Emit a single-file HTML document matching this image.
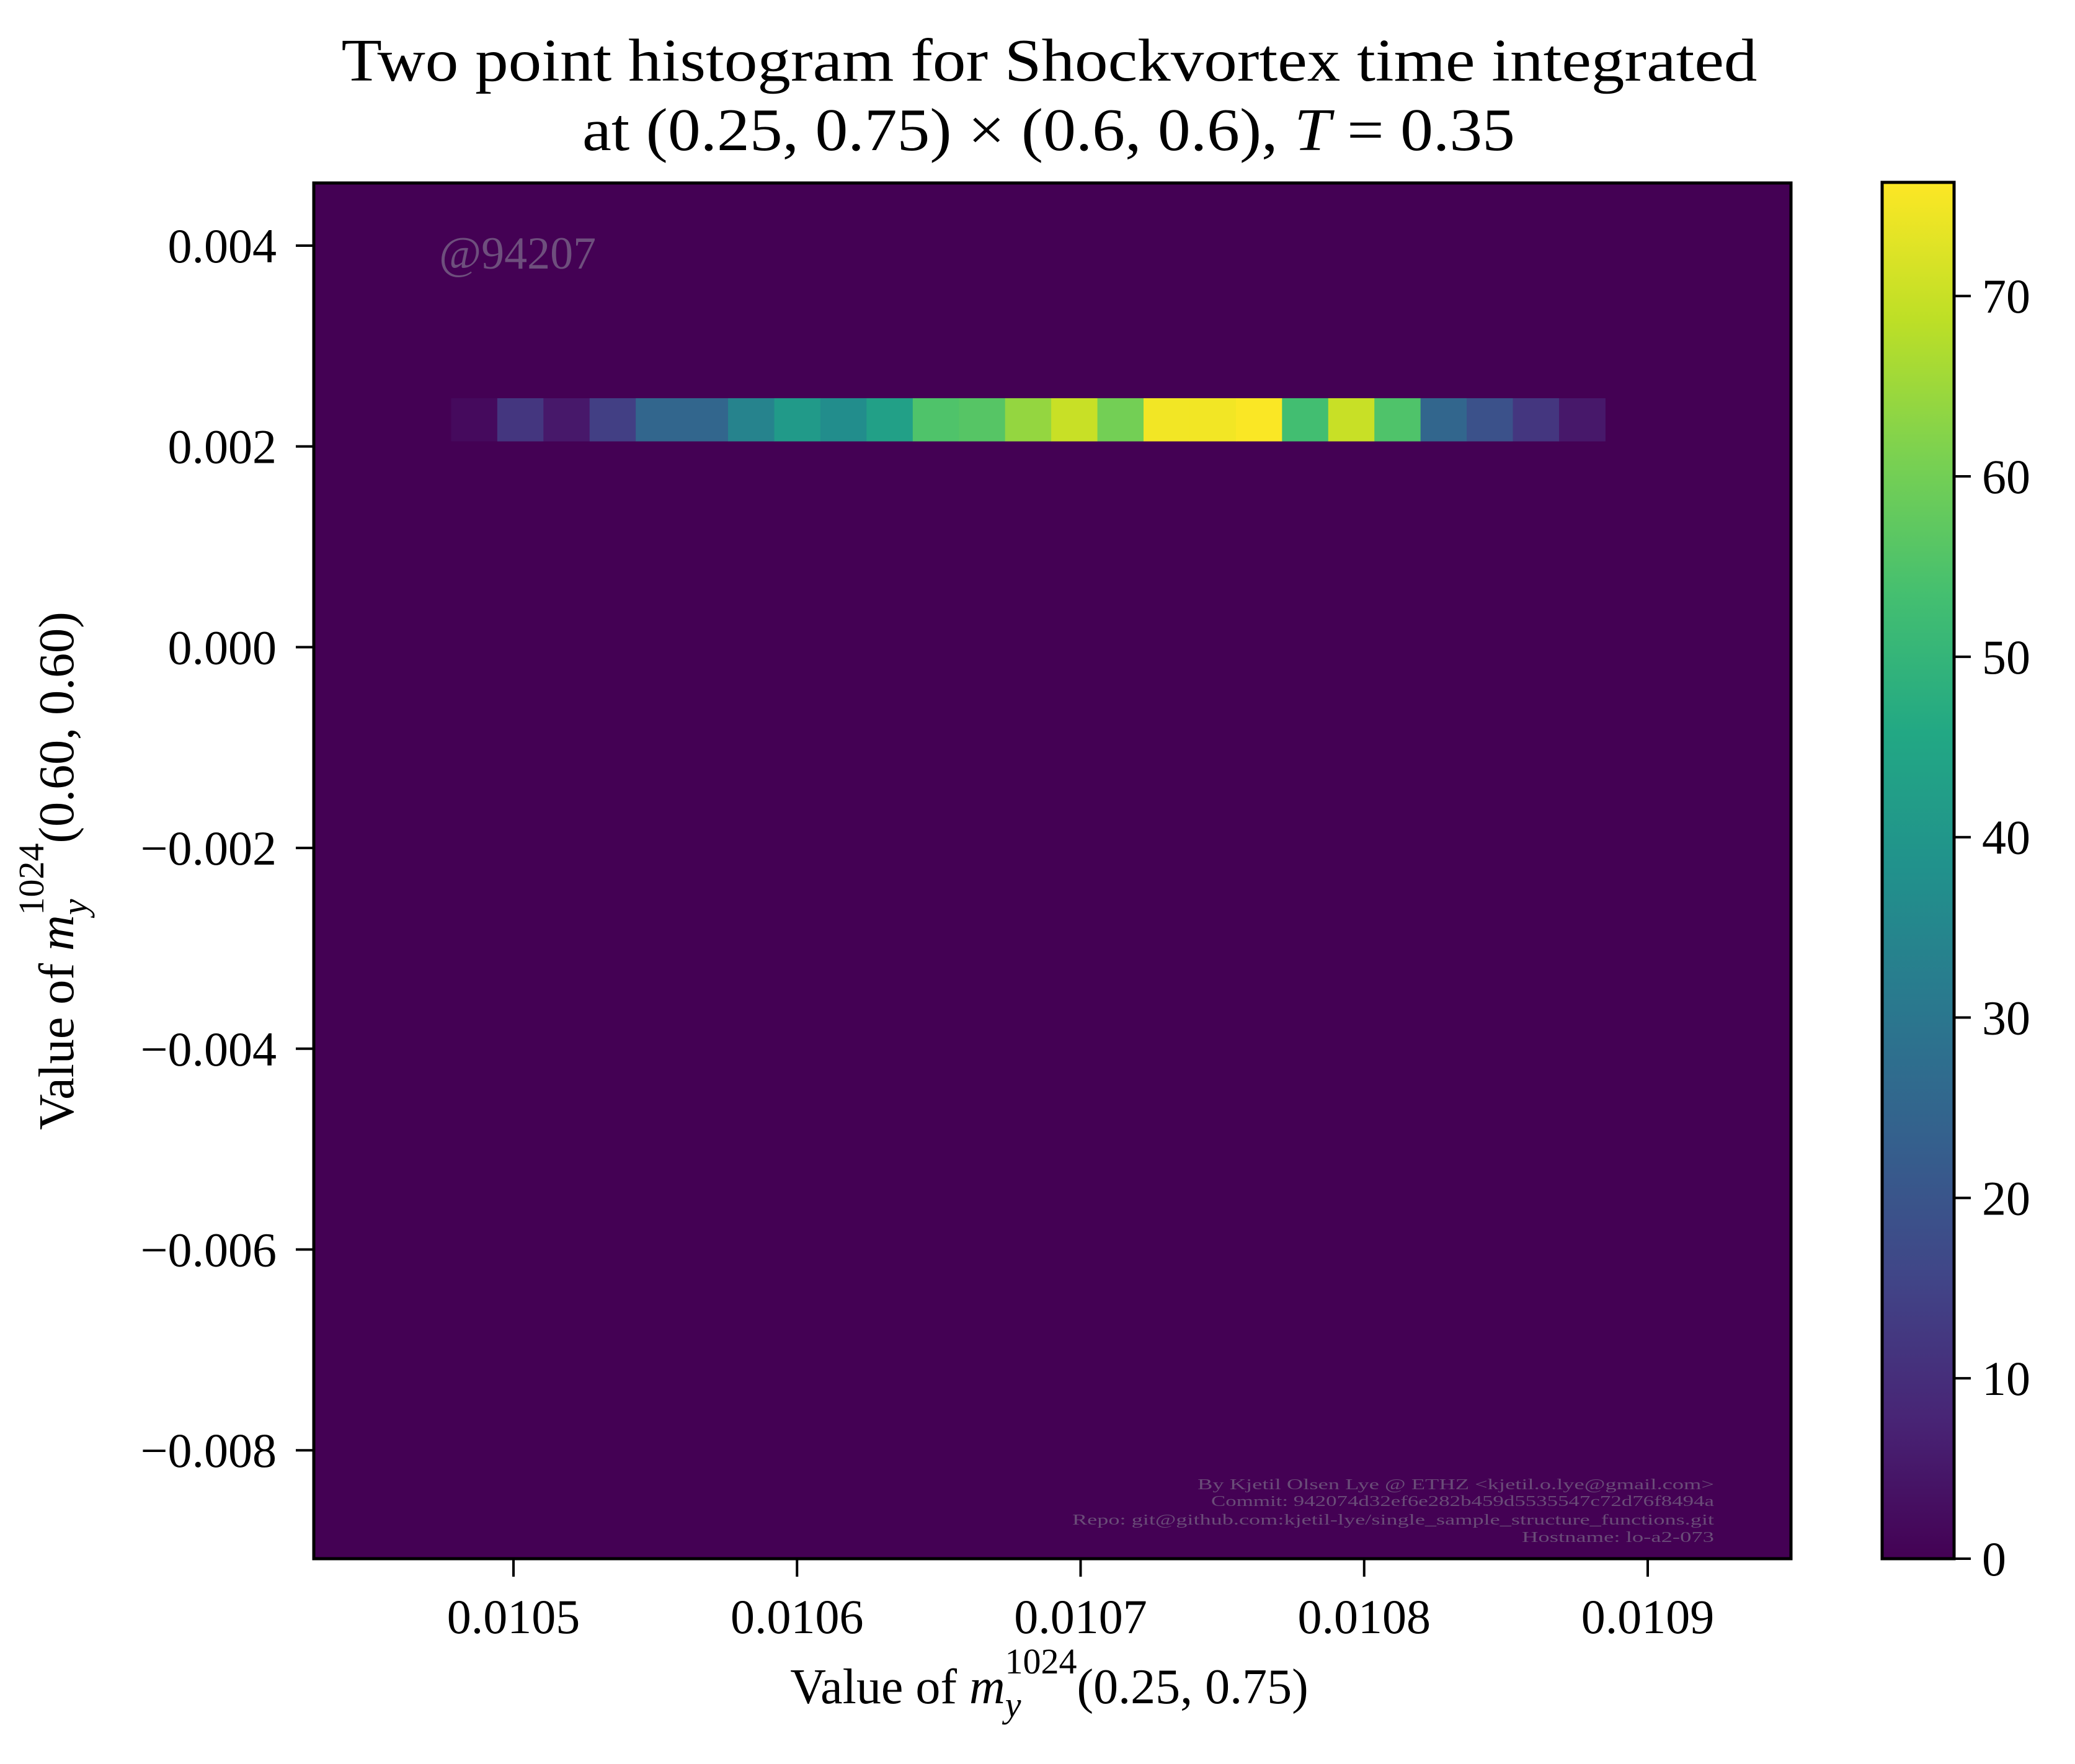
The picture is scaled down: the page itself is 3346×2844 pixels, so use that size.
<!DOCTYPE html>
<html><head><meta charset="utf-8"><style>
body{margin:0;background:#fff}
svg{display:block;font-family:"Liberation Serif",serif}
</style></head><body>
<svg id="c" width="3346" height="2844" viewBox="0 0 3346 2844" xmlns="http://www.w3.org/2000/svg">
<defs>
<linearGradient id="vg" x1="0" y1="1" x2="0" y2="0">
<stop offset="0" stop-color="#440154"/><stop offset="0.1" stop-color="#482475"/><stop offset="0.2" stop-color="#414487"/><stop offset="0.3" stop-color="#355f8d"/><stop offset="0.4" stop-color="#2a788e"/><stop offset="0.5" stop-color="#21918c"/><stop offset="0.6" stop-color="#22a884"/><stop offset="0.7" stop-color="#44bf70"/><stop offset="0.8" stop-color="#7ad151"/><stop offset="0.9" stop-color="#bddf26"/><stop offset="1" stop-color="#fde725"/>
</linearGradient>
</defs>
<g font-size="98">
<text x="1692" y="130" text-anchor="middle" textLength="2283" lengthAdjust="spacingAndGlyphs">Two point histogram for Shockvortex time integrated</text>
<text x="1691" y="242" text-anchor="middle" textLength="1504" lengthAdjust="spacingAndGlyphs">at (0.25, 0.75) × (0.6, 0.6), <tspan font-style="italic">T</tspan> = 0.35</text>
</g>
<rect x="506" y="295" width="2382" height="2218" fill="#440154"/>
<g id="cells"></g>
<text x="708" y="433" font-size="74" fill="#6e4f7d">@94207</text>
<g font-size="24" fill="#6a4c78" lengthAdjust="spacingAndGlyphs">
<text x="1931" y="2401" textLength="833" lengthAdjust="spacingAndGlyphs">By Kjetil Olsen Lye @ ETHZ &lt;kjetil.o.lye@gmail.com&gt;</text>
<text x="1953" y="2428" textLength="811" lengthAdjust="spacingAndGlyphs">Commit: 942074d32ef6e282b459d5535547c72d76f8494a</text>
<text x="1729" y="2458" textLength="1035" lengthAdjust="spacingAndGlyphs">Repo: git@github.com:kjetil-lye/single_sample_structure_functions.git</text>
<text x="2454" y="2486" textLength="310" lengthAdjust="spacingAndGlyphs">Hostname: lo-a2-073</text>
</g>
<rect x="506" y="295" width="2382" height="2218" fill="none" stroke="#000" stroke-width="5"/>
<g id="xt" font-size="78"></g>
<g id="yt" font-size="78"></g>
<text x="1692" y="2746" text-anchor="middle" font-size="80">Value of <tspan font-style="italic">m</tspan><tspan font-style="italic" font-size="58" dy="22">y</tspan><tspan font-size="58" dx="-26" dy="-70">1024</tspan><tspan dy="48">(0.25, 0.75)</tspan></text>
<text transform="translate(118,1404) rotate(-90)" text-anchor="middle" font-size="80">Value of <tspan font-style="italic">m</tspan><tspan font-style="italic" font-size="58" dy="22">y</tspan><tspan font-size="58" dx="-26" dy="-70">1024</tspan><tspan dy="48">(0.60, 0.60)</tspan></text>
<rect x="3035" y="294" width="116" height="2219" fill="url(#vg)" stroke="#000" stroke-width="5"/>
<g id="ct" font-size="78"></g>
</svg>
<script>
const counts=[2,12,5,14,25,25,34,41,37,43,55,56,64,70,60,75,75,76,53,70,55,25,19,12,5];
const xStart=0.010478, xEnd=0.010885;
const yLo=0.00205, yHi=0.00248;
const xTicks=[0.0105,0.0106,0.0107,0.0108,0.0109];
const xTickLabels=["0.0105","0.0106","0.0107","0.0108","0.0109"];
const yTicks=[0.004,0.002,0,-0.002,-0.004,-0.006,-0.008];
const yTickLabels=["0.004","0.002","0.000","\u22120.002","\u22120.004","\u22120.006","\u22120.008"];
const cTicks=[0,10,20,30,40,50,60,70];
const vmax=76.3;
const NS="http://www.w3.org/2000/svg";
const X=v=>828+(v-0.0105)*4572500;
const Y=v=>396-(v-0.004)/0.002*323.7;
const C=v=>2513-v/vmax*2219;
const stops=["#440154","#482475","#414487","#355f8d","#2a788e","#21918c","#22a884","#44bf70","#7ad151","#bddf26","#fde725"];
function viridis(t){t=Math.max(0,Math.min(1,t));const f=t*10,i=Math.min(9,Math.floor(f)),r=f-i;
const a=stops[i],b=stops[i+1];const h=(s,k)=>parseInt(s.substr(1+2*k,2),16);
return "rgb("+[0,1,2].map(k=>Math.round(h(a,k)+(h(b,k)-h(a,k))*r)).join(",")+")";}
function mk(tag,attrs,parent){const e=document.createElementNS(NS,tag);for(const k in attrs)e.setAttribute(k,attrs[k]);parent.appendChild(e);return e;}
const cells=document.getElementById('cells');
const w=(xEnd-xStart)/counts.length;
counts.forEach((c,i)=>{
 const x0=X(xStart+i*w),x1=X(xStart+(i+1)*w);
 const r=mk('rect',{x:x0,y:Y(yHi),width:x1-x0+0.5,height:Y(yLo)-Y(yHi),fill:viridis(c/vmax)},cells);
 
 
});
const xt=document.getElementById('xt');
xTicks.forEach((v,i)=>{
 const l=mk('line',{x1:X(v),x2:X(v),y1:2513,y2:2542,stroke:'#000','stroke-width':4},xt);
 
 
 const t=mk('text',{x:X(v),y:2633,'text-anchor':'middle'},xt);
 
 
 t.textContent=xTickLabels[i];
});
const yt=document.getElementById('yt');
yTicks.forEach((v,i)=>{
 const l=mk('line',{x1:477,x2:506,y1:Y(v),y2:Y(v),stroke:'#000','stroke-width':4},yt);
 
 
 const t=mk('text',{x:446,y:Y(v)+27,'text-anchor':'end'},yt);
 
 
 t.textContent=yTickLabels[i];
});
const ct=document.getElementById('ct');
cTicks.forEach(v=>{
 const l=mk('line',{x1:3151,x2:3178,y1:C(v),y2:C(v),stroke:'#000','stroke-width':4},ct);
 
 
 const t=mk('text',{x:3196,y:C(v)+27},ct);
 
 
 t.textContent=String(v);
});
</script>
</body></html>
